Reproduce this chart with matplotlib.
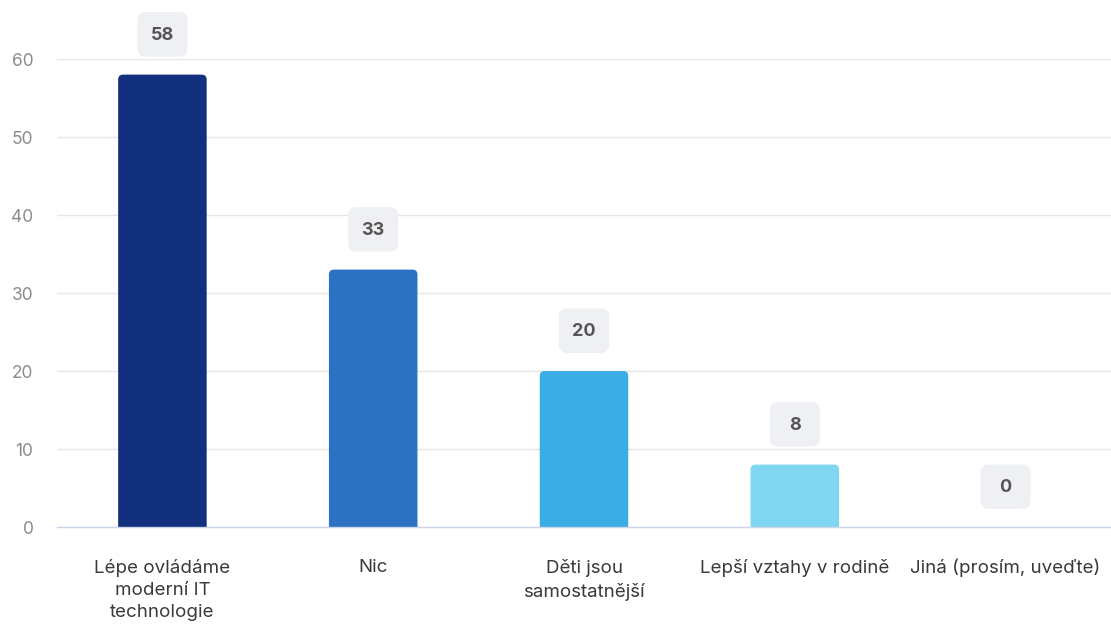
import matplotlib.pyplot as plt
from matplotlib.patches import FancyBboxPatch
from matplotlib.offsetbox import DrawingArea, AnnotationBbox
from matplotlib.text import Text

plt.rcParams['font.family'] = ['Inter', 'DejaVu Sans']

# data
kategorie = ["Lépe ovládáme\nmoderní IT\ntechnologie", "Nic", "Děti jsou\nsamostatnější",
             "Lepší vztahy v rodině", "Jiná (prosím, uveďte)"]
hodnoty = [58, 33, 20, 8, 0]
barvy = ["#13307f", "#2b72c3", "#3badE4", "#80d6f1", "#c8eef9"]
y_ticks = [0, 10, 20, 30, 40, 50, 60]

fig = plt.figure(figsize=(11.11, 6.26), dpi=100)
ax = fig.add_axes([57 / 1111, 99 / 626, 1054 / 1111, 468 / 626])

ax.set_xlim(-0.5, len(kategorie) - 0.5)
ax.set_ylim(0, 60)

sirka = 0.42
# zaobleni rohu: jednotky x a y na pixel
px_x = len(kategorie) / 1054
px_y = 60 / 468
r = 5 * px_x
for i, v in enumerate(hodnoty):
    if v <= 0:
        continue
    # spodek sahá pod osu, orizne se osou -> zaobleny jen vrsek
    ax.add_patch(FancyBboxPatch((i - sirka / 2, -v), sirka, 2 * v,
                                boxstyle="round,pad=0,rounding_size=%f" % r,
                                mutation_aspect=px_y / px_x,
                                fc=barvy[i], ec="none", zorder=3))

# popisky hodnot v zaoblenych boxech
for i, v in enumerate(hodnoty):
    da = DrawingArea(36, 32, 0, 0)
    da.add_artist(FancyBboxPatch((0, 0), 36, 32,
                                 boxstyle="round,pad=0,rounding_size=6",
                                 fc="#eef0f3", ec="none"))
    da.add_artist(Text(18, 15.5, str(v), ha="center", va="center",
                       fontsize=13, fontweight="bold", color="#555555"))
    ab = AnnotationBbox(da, (i, v), xybox=(0, 29), xycoords="data",
                        boxcoords="offset points", frameon=False,
                        annotation_clip=False, pad=0)
    ax.add_artist(ab)

ax.set_yticks(y_ticks)
ax.set_xticks(range(len(kategorie)))
ax.set_xticklabels(kategorie, fontsize=13.5, color="#3a3a3a", linespacing=1.4)
ax.tick_params(axis="x", length=0, pad=23)
ax.tick_params(axis="y", length=0, pad=17, labelsize=12.5, labelcolor="#8c8c8c")

ax.grid(axis="y", color="#e6e6e6", linewidth=1, zorder=0)
for s in ["top", "right", "left"]:
    ax.spines[s].set_visible(False)
ax.spines["bottom"].set_color("#ccd6eb")
ax.spines["bottom"].set_linewidth(1)
ax.spines["bottom"].set_zorder(4)

fig.savefig("out.png", dpi=100)
